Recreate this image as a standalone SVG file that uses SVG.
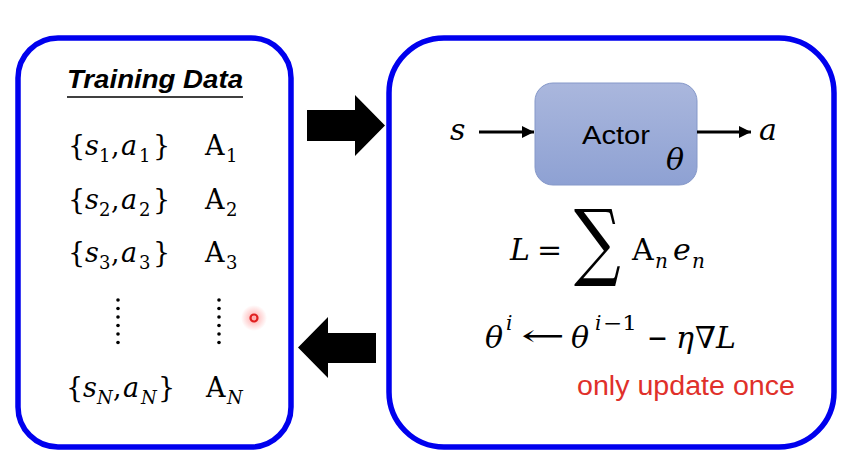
<svg xmlns="http://www.w3.org/2000/svg" width="848" height="467" viewBox="0 0 848 467">
<defs>
<linearGradient id="actorFill" x1="0" y1="0" x2="0" y2="1">
<stop offset="0" stop-color="#aab7dd"/>
<stop offset="1" stop-color="#8ea1d3"/>
</linearGradient>
<radialGradient id="glow">
<stop offset="0" stop-color="#ff6060" stop-opacity="0.55"/>
<stop offset="1" stop-color="#ff6060" stop-opacity="0"/>
</radialGradient>
<marker id="ah" viewBox="0 0 10 10" refX="10" refY="5" markerWidth="4" markerHeight="4" orient="auto" markerUnits="strokeWidth">
<path d="M0,0 L10,5 L0,10 z" fill="#000"/>
</marker>
</defs>
<style>
.panel{fill:#fff;stroke:#0000ee;stroke-width:5.5}
.m{font-family:"DejaVu Serif","Liberation Serif",serif;font-size:27px;fill:#000}
.i{font-style:italic}
.sub{font-size:18px}
.big{font-family:"DejaVu Serif","Liberation Serif",serif;font-size:30px;fill:#000}
.sup{font-size:20px}
.sans{font-family:"Liberation Sans",Arial,sans-serif}
.dot{fill:#000}
.conn{stroke:#000;stroke-width:3;fill:none}
</style>

<g id="training-data">
<rect class="panel" x="18" y="38" width="273" height="409" rx="40" ry="40"/>
<text class="sans" x="67" y="88" font-size="26" font-weight="bold" font-style="italic" textLength="176" lengthAdjust="spacingAndGlyphs">Training Data</text>
<line x1="67" y1="97" x2="243" y2="97" stroke="#000" stroke-width="1.5"/>
<g class="m">
<text y="155"><tspan x="68">{</tspan><tspan x="85" class="i">s</tspan><tspan x="99" y="162" class="sub">1</tspan><tspan x="111" y="155">,</tspan><tspan x="121" class="i">a</tspan><tspan x="139" y="162" class="sub">1</tspan><tspan x="153" y="155">}</tspan></text>
<text y="155"><tspan x="205">A</tspan><tspan x="226" y="162" class="sub">1</tspan></text>
<text y="209"><tspan x="68">{</tspan><tspan x="85" class="i">s</tspan><tspan x="99" y="216" class="sub">2</tspan><tspan x="111" y="209">,</tspan><tspan x="121" class="i">a</tspan><tspan x="139" y="216" class="sub">2</tspan><tspan x="153" y="209">}</tspan></text>
<text y="209"><tspan x="205">A</tspan><tspan x="226" y="216" class="sub">2</tspan></text>
<text y="262"><tspan x="68">{</tspan><tspan x="85" class="i">s</tspan><tspan x="99" y="269" class="sub">3</tspan><tspan x="111" y="262">,</tspan><tspan x="121" class="i">a</tspan><tspan x="139" y="269" class="sub">3</tspan><tspan x="153" y="262">}</tspan></text>
<text y="262"><tspan x="205">A</tspan><tspan x="226" y="269" class="sub">3</tspan></text>
<text y="397"><tspan x="66">{</tspan><tspan x="83" class="i">s</tspan><tspan x="97" y="404" class="sub i">N</tspan><tspan x="113" y="397">,</tspan><tspan x="123" class="i">a</tspan><tspan x="141" y="404" class="sub i">N</tspan><tspan x="158" y="397">}</tspan></text>
<text y="397"><tspan x="206">A</tspan><tspan x="227" y="404" class="sub i">N</tspan></text>
</g>
<g id="dots-left">
<circle class="dot" cx="118" cy="300" r="1.8"/><circle class="dot" cx="118" cy="308.5" r="1.8"/><circle class="dot" cx="118" cy="317" r="1.8"/><circle class="dot" cx="118" cy="325.5" r="1.8"/><circle class="dot" cx="118" cy="334" r="1.8"/><circle class="dot" cx="118" cy="342.5" r="1.8"/>
</g>
<g id="dots-right">
<circle class="dot" cx="219" cy="300" r="1.8"/><circle class="dot" cx="219" cy="308.5" r="1.8"/><circle class="dot" cx="219" cy="317" r="1.8"/><circle class="dot" cx="219" cy="325.5" r="1.8"/><circle class="dot" cx="219" cy="334" r="1.8"/><circle class="dot" cx="219" cy="342.5" r="1.8"/>
</g>
<g id="pointer">
<circle cx="254" cy="318" r="13" fill="url(#glow)"/>
<circle cx="254" cy="318" r="3.5" fill="none" stroke="#e02020" stroke-width="2.2"/>
</g>
</g>

<g id="update-panel">
<rect class="panel" x="389" y="38" width="445" height="409" rx="55" ry="55"/>
</g>

<g id="actor">
<rect x="535" y="83" width="162" height="102" rx="18" ry="18" fill="url(#actorFill)" stroke="#8598c9" stroke-width="1"/>
<text class="sans" x="582" y="144" font-size="25" fill="#000" textLength="68" lengthAdjust="spacingAndGlyphs">Actor</text>
<text class="big i" x="666" y="170" font-size="24">θ</text>
</g>

<g id="labels-io">
<text class="big i" x="450" y="140" font-size="30">s</text>
<text class="big i" x="759" y="140" font-size="30">a</text>
</g>

<g id="loss">
<text class="big"><tspan x="510" y="260" class="i">L</tspan><tspan x="537" y="260">=</tspan></text>
<text x="574" y="270" font-family="'DejaVu Serif','Liberation Serif',serif" font-size="85" transform="translate(574 270) scale(0.77 1) translate(-574 -270)">∑</text>
<text class="big"><tspan x="632" y="260">A</tspan><tspan x="655" y="268" class="sup i">n</tspan><tspan x="673" y="260" class="i">e</tspan><tspan x="692" y="268" class="sup i">n</tspan></text>
</g>

<g id="update-rule">
<text class="big" font-size="31"><tspan x="485" y="348" class="i">θ</tspan><tspan x="506" y="330" class="sup i">i</tspan></text>
<text class="big" x="521" y="346" textLength="44" lengthAdjust="spacingAndGlyphs">←</text>
<text class="big" font-size="31"><tspan x="571" y="348" class="i">θ</tspan><tspan x="595" y="330" class="sup i">i</tspan></text>
<text class="big sup" x="603" y="330" textLength="34" lengthAdjust="spacingAndGlyphs">−1</text>
<text class="big" x="647" y="348" textLength="21" lengthAdjust="spacingAndGlyphs">−</text>
<text class="big" font-size="31"><tspan x="676" y="348" class="i">η</tspan></text>
<text class="big" x="695" y="348" font-size="25">∇</text>
<text class="big" x="716" y="348" font-size="31"><tspan class="i">L</tspan></text>
</g>

<g id="note">
<text class="sans" x="577" y="395" font-size="27" fill="#e0302a" textLength="218" lengthAdjust="spacingAndGlyphs">only update once</text>
</g>

<g id="connectors">
<path id="arrow-right" d="M307,110 H355 V95 L385,125.5 L355,156 V141 H307 Z" fill="#000"/>
<path id="arrow-left" d="M376,333 H328 V317 L298,347.5 L328,378 V363 H376 Z" fill="#000"/>
<line class="conn" x1="479" y1="132" x2="534" y2="132" marker-end="url(#ah)"/>
<line class="conn" x1="697" y1="132" x2="751" y2="132" marker-end="url(#ah)"/>
</g>
</svg>
